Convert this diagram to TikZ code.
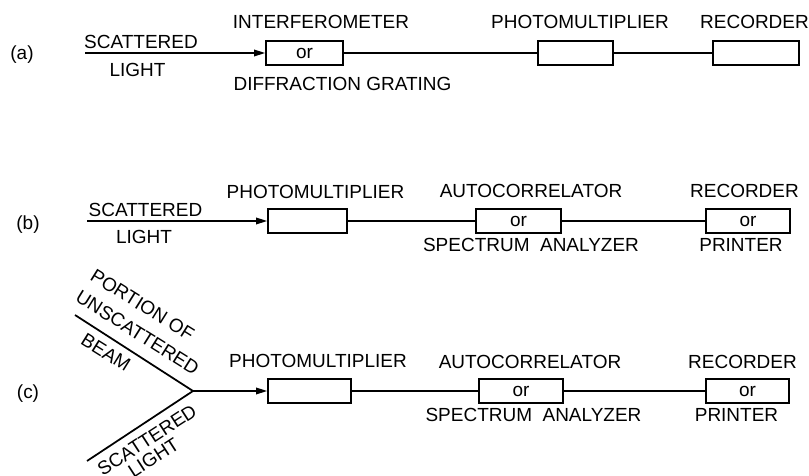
\documentclass[tikz,border=0pt]{standalone}
\usepackage{fontspec}
\setmainfont{Liberation Sans}
\usepackage{tikz}
\usetikzlibrary{arrows.meta,positioning,calc}

\begin{document}
\begin{tikzpicture}[
  font=\fontsize{10.8}{13}\selectfont,
  blk/.style={draw,line width=1pt,minimum height=0.48cm,inner sep=0pt},
  ln/.style={line width=1pt},
  arr/.style={ln,-{Triangle[length=2.2mm,width=1.3mm]}}]
\useasboundingbox (0,0) rectangle (16.18,9.52);

% (a)
\node (la) at (0.44,8.42) {(a)};
\coordinate (sa) at (1.70,8.46);
\node[blk,minimum width=1.54cm] (a1) at (6.09,8.46) {or};
\node[blk,minimum width=1.50cm] (a2) at (11.51,8.46) {};
\node[blk,minimum width=1.72cm] (a3) at (15.12,8.46) {};
\draw[arr] (sa) -- (a1);
\draw[ln] (a1) -- (a2);
\draw[ln] (a2) -- (a3);
\node (sca) at (2.82,8.68) {SCATTERED};
\node (lia) at (2.75,8.12) {LIGHT};
\node (ifm) at (6.42,9.08) {INTERFEROMETER};
\node (dfg) at (6.85,7.84) {DIFFRACTION GRATING};
\node (pma) at (11.60,9.08) {PHOTOMULTIPLIER};
\node (rca) at (15.09,9.08) {RECORDER};

% (b)
\node (lb) at (0.56,5.02) {(b)};
\coordinate (sb) at (1.74,5.10);
\node[blk,minimum width=1.58cm] (b1) at (6.15,5.10) {};
\node[blk,minimum width=1.70cm] (b2) at (10.37,5.10) {or};
\node[blk,minimum width=1.68cm] (b3) at (14.96,5.10) {or};
\draw[arr] (sb) -- (b1);
\draw[ln] (b1) -- (b2);
\draw[ln] (b2) -- (b3);
\node (scb) at (2.91,5.32) {SCATTERED};
\node (lib) at (2.88,4.79) {LIGHT};
\node (pmb) at (6.31,5.68) {PHOTOMULTIPLIER};
\node (acb) at (10.62,5.70) {AUTOCORRELATOR};
\node (sab) at (10.62,4.62) {SPECTRUM\ \ ANALYZER};
\node (rcb) at (14.89,5.71) {RECORDER};
\node (prb) at (14.82,4.62) {PRINTER};

% (c)
\node (lc) at (0.56,1.64) {(c)};
\coordinate (jc) at (3.86,1.70);
\coordinate (ub) at (1.50,3.22);
\coordinate (ls) at (1.74,0.30);
\node[blk,minimum width=1.66cm] (c1) at (6.19,1.70) {};
\node[blk,minimum width=1.68cm] (c2) at (10.42,1.70) {or};
\node[blk,minimum width=1.66cm] (c3) at (14.95,1.70) {or};
\draw[ln] (ub) -- (jc) -- (ls);
\draw[arr] (jc) -- (c1);
\draw[ln] (c1) -- (c2);
\draw[ln] (c2) -- (c3);
\node[rotate=-32,inner sep=1pt] (poc) at (2.85,3.42) {PORTION OF};
\node[rotate=-32,inner sep=1pt] (unc) at (2.75,2.87) {UNSCATTERED};
\node[rotate=-32,inner sep=1pt] (bmc) at (2.12,2.47) {BEAM};
\node[rotate=33,inner sep=1pt] (scc) at (2.94,0.72) {SCATTERED};
\node[rotate=33,inner sep=1pt] (lic) at (3.07,0.37) {LIGHT};
\node (pmc) at (6.36,2.30) {PHOTOMULTIPLIER};
\node (acc) at (10.60,2.29) {AUTOCORRELATOR};
\node (sac) at (10.67,1.22) {SPECTRUM\ \ ANALYZER};
\node (rcc) at (14.85,2.29) {RECORDER};
\node (prc) at (14.73,1.22) {PRINTER};
\end{tikzpicture}
\end{document}
